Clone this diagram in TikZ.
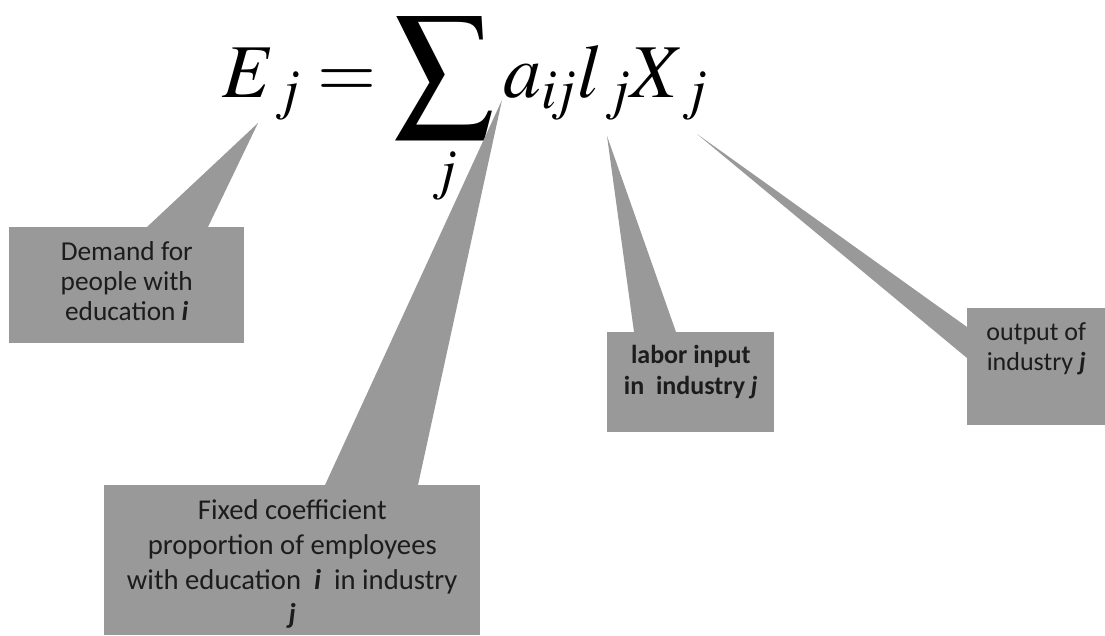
\documentclass[tikz,border=0pt]{standalone}
\usepackage{mathptmx}
\usepackage{graphicx}
\usepackage{fontspec}
\newfontfamily\calibri{Carlito}
\usetikzlibrary{positioning, calc}
\definecolor{CalloutGray}{RGB}{153, 153, 153}
\definecolor{LabelInk}{RGB}{28, 28, 28}
\newcommand{\bigsum}{\mathop{\vcenter{\hbox{\scalebox{1.3}{$\displaystyle\sum$}}}}\limits}
\tikzset{
    calloutbox/.style={rectangle, fill=CalloutGray, inner sep=0pt, anchor=north west},
    pointer/.style={fill=CalloutGray},
    callouttext/.style={align=center, text=LabelInk, inner sep=0pt}
}
\begin{document}
\begin{tikzpicture}[x=0.75pt, y=-0.75pt]
    \useasboundingbox (0,0) rectangle (1105,635);
    % equation
    \node[anchor=base, inner sep=0pt] (eq) at (465,97)
        {\fontsize{57}{60}\selectfont$\displaystyle E_{\,j} = \bigsum_j a_{i\!j} l_{\,j} X_{\,j}$};
    % pointer tips
    \coordinate (demandtip) at (258,123);
    \coordinate (coefftip) at (502,100);
    \coordinate (labortip) at (607,136);
    \coordinate (outputtip) at (697,134);
    % boxes
    \node[calloutbox, minimum width=176.25pt, minimum height=87pt] (demand) at (9,227) {};
    \node[calloutbox, minimum width=282pt, minimum height=112.5pt] (coeff) at (104,485) {};
    \node[calloutbox, minimum width=125.25pt, minimum height=75pt] (labor) at (607,332) {};
    \node[calloutbox, minimum width=103.5pt, minimum height=87.75pt] (output) at (967,308) {};
    % pointers
    \fill[pointer] (demandtip) -- ($(demand.north west)+(138,0)$) -- ($(demand.north west)+(199,0)$) -- cycle;
    \fill[pointer] (coefftip) -- ($(coeff.north west)+(221,0)$) -- ($(coeff.north west)+(314,0)$) -- cycle;
    \fill[pointer] (labortip) -- ($(labor.north west)+(27,0)$) -- ($(labor.north west)+(69,0)$) -- cycle;
    \fill[pointer] (outputtip) -- ($(output.north west)+(0,19)$) -- ($(output.north west)+(0,50)$) -- cycle;
    % texts
    \node[callouttext, font=\calibri\fontsize{20.5}{22.5}\selectfont, below=11pt of demand.north] (demandtext)
        {Demand for\\people with\\education \textbf{\textit{i}}};
    \node[callouttext, font=\calibri\fontsize{21.5}{26}\selectfont, below=11pt of coeff.north] (coefftext)
        {Fixed coefficient\\proportion of employees\\with education~ \textbf{\textit{i}} ~in industry\\\textbf{\textit{j}}};
    \node[callouttext, font=\calibri\bfseries\fontsize{19.5}{23}\selectfont, below=10pt of labor.north] (labortext)
        {labor input\\in~ industry \textit{j}};
    \node[callouttext, font=\calibri\fontsize{19.5}{22.5}\selectfont, below=10.5pt of output.north] (outputtext)
        {output of\\industry \textbf{\textit{j}}};
\end{tikzpicture}
\end{document}
